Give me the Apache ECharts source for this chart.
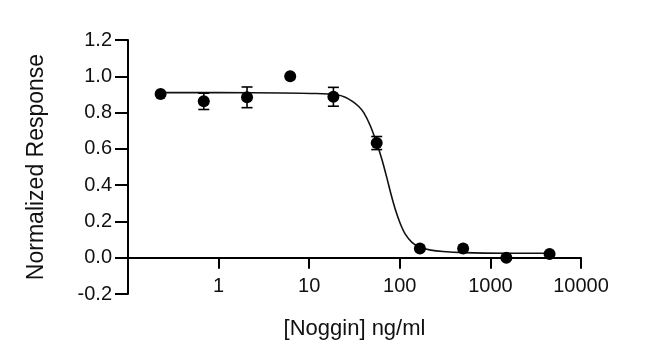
<!DOCTYPE html>
<html>
<head>
<meta charset="utf-8">
<script src="https://cdn.jsdelivr.net/npm/echarts@6/dist/echarts.min.js"></script>
<style>html,body{margin:0;padding:0;background:#fff}#c{width:650px;height:362px}</style>
</head>
<body>
<div id="c"></div>
<script>
// Measured data (concentration ng/ml, normalized response)
const conc = [0.229, 0.686, 2.06, 6.17, 18.5, 55.6, 166.7, 500, 1500, 4500];
const response = [0.902, 0.862, 0.884, 1.0, 0.887, 0.632, 0.051, 0.051, 0.0, 0.02];
const errors = [0, 0.045, 0.057, 0, 0.052, 0.036, 0, 0, 0, 0];
// Fitted curve
const curveX = [0.229, 1, 5, 12, 20, 25, 30, 35, 40, 47, 55.6, 63.6, 72, 80, 90, 101.6, 115, 136, 167, 220, 300, 500, 1500, 4500];
const curveY = [0.91, 0.91, 0.908, 0.905, 0.898, 0.885, 0.862, 0.835, 0.80, 0.73, 0.632, 0.54, 0.44, 0.35, 0.26, 0.186, 0.13, 0.085, 0.058, 0.042, 0.034, 0.028, 0.025, 0.025];
const yTicks = [-0.2, 0, 0.2, 0.4, 0.6, 0.8, 1.0, 1.2];

const pts = conc.map((x, i) => [x, response[i]]);
const errData = conc.map((x, i) => [x, response[i] - errors[i], response[i] + errors[i]]).filter((d, i) => errors[i] > 0);
const curve = curveX.map((x, i) => [x, curveY[i]]);

const font = 'Liberation Sans, Arial, sans-serif';
const chart = echarts.init(document.getElementById('c'), null, {renderer: 'canvas'});
chart.setOption({
  animation: false,
  backgroundColor: '#fff',
  grid: {left: 128, right: 69, top: 40, bottom: 68, containLabel: false, outerBoundsMode: 'none'},
  xAxis: {
    type: 'log', logBase: 10, min: 0.1, max: 10000,
    name: '[Noggin] ng/ml', nameLocation: 'middle', nameGap: 24, nameMoveOverlap: false,
    nameTextStyle: {fontFamily: font, fontSize: 22, color: '#111'},
    axisLine: {onZero: true, lineStyle: {color: '#000', width: 2}},
    axisTick: {inside: false, length: 11, lineStyle: {color: '#000', width: 2}},
    axisLabel: {
      margin: -18, fontFamily: font, fontSize: 20, color: '#111',
      formatter: v => v < 0.5 ? '' : String(Math.round(v))
    },
    splitLine: {show: false}, minorTick: {show: false}
  },
  yAxis: {
    type: 'value', min: -0.2, max: 1.2, interval: 0.2,
    name: 'Normalized Response', nameLocation: 'middle', nameGap: 80, nameMoveOverlap: false,
    nameTextStyle: {fontFamily: font, fontSize: 23, color: '#111'},
    axisLine: {show: true, onZero: false, lineStyle: {color: '#000', width: 2}},
    axisTick: {show: true, inside: false, length: 13, lineStyle: {color: '#000', width: 2}},
    axisLabel: {margin: 16, fontFamily: font, fontSize: 20, color: '#111', formatter: v => v.toFixed(1)},
    splitLine: {show: false}
  },
  series: [
    {
      type: 'line', data: curve, smooth: 0.25, showSymbol: false,
      lineStyle: {color: '#111', width: 1.6}, z: 2
    },
    {
      type: 'custom', data: errData, z: 3,
      renderItem: (params, api) => {
        const x = api.value(0);
        const lo = api.coord([x, api.value(1)]);
        const hi = api.coord([x, api.value(2)]);
        const w = 5.5;
        const st = {stroke: '#000', lineWidth: 1.6};
        return {type: 'group', children: [
          {type: 'line', shape: {x1: lo[0], y1: lo[1], x2: hi[0], y2: hi[1]}, style: st},
          {type: 'line', shape: {x1: lo[0] - w, y1: lo[1], x2: lo[0] + w, y2: lo[1]}, style: st},
          {type: 'line', shape: {x1: hi[0] - w, y1: hi[1], x2: hi[0] + w, y2: hi[1]}, style: st}
        ]};
      }
    },
    {
      type: 'scatter', data: pts, symbol: 'circle', symbolSize: 12,
      itemStyle: {color: '#000', opacity: 1}, z: 4
    }
  ]
});
</script>
</body>
</html>
